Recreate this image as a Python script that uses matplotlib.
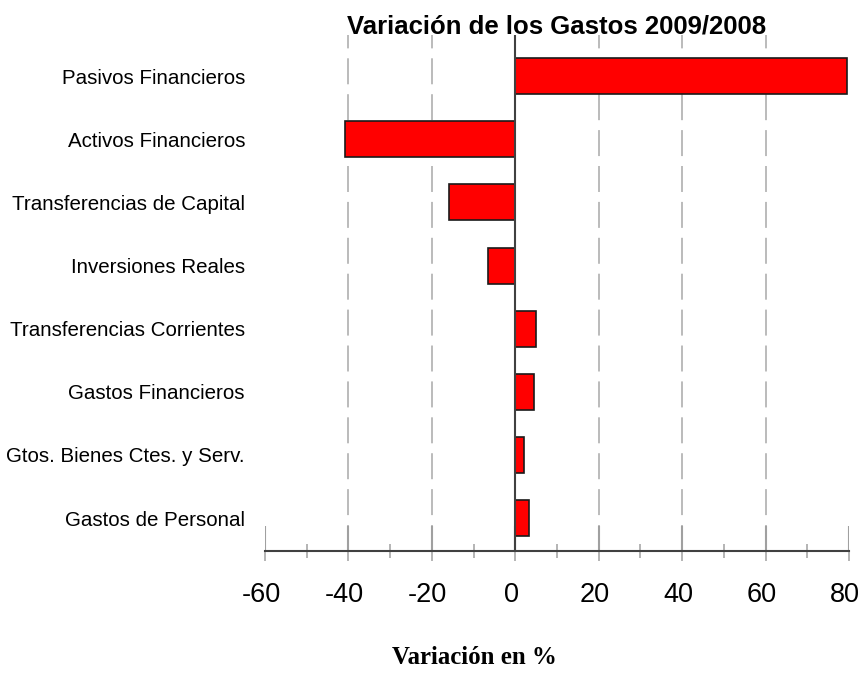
import matplotlib
matplotlib.use('Agg')
import matplotlib.pyplot as plt
import matplotlib.transforms as mtransforms
import numpy as np
from matplotlib.ticker import MultipleLocator

plt.rcParams['axes.unicode_minus'] = False

# Variacion de los gastos 2009/2008 (en %)
categorias = ['Gastos de Personal', 'Gtos. Bienes Ctes. y Serv.', 'Gastos Financieros',
              'Transferencias Corrientes', 'Inversiones Reales', 'Transferencias de Capital',
              'Activos Financieros', 'Pasivos Financieros']
variacion = [3.4, 2.2, 4.6, 5.0, -6.5, -16.0, -40.9, 79.6]

fig = plt.figure(figsize=(8.62, 6.73), dpi=100)
ax = fig.add_axes([265/862, 1-551/673, (849-265)/862, (551-35)/673])

y = np.arange(len(categorias))
ax.barh(y, variacion, height=0.57, color='#ff0000', edgecolor='#1a1a1a', linewidth=1.2, zorder=3)

ax.set_xlim(-60, 80)
ax.set_ylim(-0.52, 7.65)
ax.xaxis.set_major_locator(MultipleLocator(20))
ax.xaxis.set_minor_locator(MultipleLocator(10))

# grid dashed, zero line solid
for xv in np.arange(-40, 80, 20):
    if xv != 0:
        ax.axvline(xv, color='#a8a8a8', lw=1.1, dashes=(17, 6.5), zorder=1)
ax.axvline(0, color='#404040', lw=1.5, zorder=4)

# upper part of the major ticks
ax.vlines(np.arange(-60, 81, 20), 0, 25/516, transform=ax.get_xaxis_transform(),
          color='#a0a0a0', lw=1.5, zorder=2)

for s in ['top', 'right', 'left']:
    ax.spines[s].set_visible(False)
ax.spines['bottom'].set_color('#404040')
ax.spines['bottom'].set_linewidth(1.5)

ax.tick_params(axis='x', which='major', direction='out', length=7.5, width=1.1,
               color='#a0a0a0', pad=15)
ax.tick_params(axis='x', which='minor', direction='inout', length=10, width=1.1,
               color='#a0a0a0')
ax.tick_params(axis='y', length=0, pad=14.4)

ax.set_yticks(y)
ax.set_yticklabels(categorias, fontsize=14.8, family=['Liberation Sans', 'DejaVu Sans'])
shift = mtransforms.ScaledTranslation(-4/100, 0, fig.dpi_scale_trans)
for lab in ax.get_xticklabels():
    lab.set_fontsize(19.5)
    lab.set_family(['Liberation Sans', 'DejaVu Sans'])
    lab.set_transform(lab.get_transform() + shift)

fig.text(557/862, 1-33/673, 'Variación de los Gastos 2009/2008', ha='center', va='baseline',
         fontsize=18.5, fontweight='bold', family=['Liberation Sans', 'DejaVu Sans'])
fig.text(474/862, 1-658/673, 'Variación en %', ha='center', va='center',
         fontsize=17.9, fontweight='bold', family=['Liberation Serif', 'DejaVu Serif'])

fig.savefig('out.png', dpi=100)
